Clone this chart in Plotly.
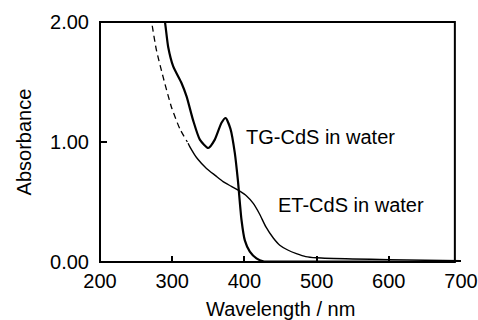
import plotly.graph_objects as go

# TG-CdS in water (solid, thick)
tg_wl = [288, 290, 294.5, 301.4, 313, 319.9, 329, 338.3, 350, 359, 368.3, 374, 380.7, 386.7,
         391, 396, 400.6, 407.5, 416.7, 426, 450, 500, 600, 700]
tg_abs = [2.06, 2.0, 1.79, 1.63, 1.49, 1.38, 1.18, 1.02, 0.95, 1.02, 1.16, 1.20, 1.11, 0.91,
          0.68, 0.35, 0.18, 0.086, 0.03, 0.005, 0.003, 0.003, 0.003, 0.003]

# ET-CdS in water, dashed (short wavelength) part
et_dash_wl = [270, 271.5, 278, 287.5, 299, 310.6, 321]
et_dash_abs = [2.05, 2.0, 1.77, 1.54, 1.29, 1.11, 1.0]

# ET-CdS in water, solid part
et_wl = [322, 324.5, 335, 347.5, 360, 370.5, 382, 393.6, 403, 412, 421, 430, 440, 449, 460,
         472, 485, 500, 550, 600, 650, 700]
et_abs = [0.99, 0.96, 0.86, 0.78, 0.72, 0.67, 0.63, 0.59, 0.55, 0.49, 0.40, 0.29, 0.20, 0.14,
          0.10, 0.07, 0.045, 0.035, 0.025, 0.02, 0.015, 0.01]

x_ticks = [200, 300, 400, 500, 600, 700]
y_ticks = [0, 1, 2]
labels = ["TG-CdS in water", "ET-CdS in water"]
label_x = [400, 444]
label_y = [1.04, 0.475]
x_title = "Wavelength / nm"
y_title = "Absorbance"

FONT = "Liberation Sans, Arial, sans-serif"

fig = go.Figure()
fig.add_trace(go.Scatter(x=tg_wl, y=tg_abs, mode="lines",
                         line=dict(color="black", width=2.2, shape="spline", smoothing=0.6),
                         showlegend=False, hoverinfo="skip"))
fig.add_trace(go.Scatter(x=et_dash_wl, y=et_dash_abs, mode="lines",
                         line=dict(color="black", width=1.3, dash="6px,4px", shape="spline", smoothing=0.6),
                         showlegend=False, hoverinfo="skip"))
fig.add_trace(go.Scatter(x=et_wl, y=et_abs, mode="lines",
                         line=dict(color="black", width=1.4, shape="spline", smoothing=0.6),
                         showlegend=False, hoverinfo="skip"))

for t, lx, ly in zip(labels, label_x, label_y):
    fig.add_annotation(x=lx, y=ly, text=t, showarrow=False, xanchor="left", yanchor="middle",
                       font=dict(size=20, color="black", family=FONT))

# x-axis title, placed slightly lower than plotly's default (as in the original)
fig.add_annotation(x=0.5, y=-0.197, xref="x domain", yref="paper", text=x_title,
                   showarrow=False, xanchor="center", yanchor="middle",
                   font=dict(size=20, color="black", family=FONT))

# frame (right edge sits slightly left of the 700 tick, as in the original)
fig.add_shape(type="rect", xref="paper", yref="paper", x0=0, x1=0.983, y0=0, y1=1,
              line=dict(color="black", width=2), layer="above")

fig.update_layout(
    width=478, height=320,
    margin=dict(l=100, r=17, t=22, b=58),
    paper_bgcolor="white", plot_bgcolor="white",
    font=dict(family=FONT, size=20, color="black"),
    xaxis=dict(range=[200, 700], tickvals=x_ticks, ticktext=[str(v) for v in x_ticks],
               ticks="outside", ticklen=1, tickcolor="rgba(0,0,0,0)",
               showline=False, showgrid=False, zeroline=False, automargin=False,
               minor=dict(tickmode="array", tickvals=[300, 400, 500, 600], ticks="inside",
                          ticklen=6, tickwidth=1.5, tickcolor="black", showgrid=False),
               tickfont=dict(size=20)),
    yaxis=dict(range=[0, 2], tickvals=y_ticks, tickformat=".2f",
               ticks="", showline=False, showgrid=False, zeroline=False, automargin=False,
               ticklabelstandoff=10,
               minor=dict(tickmode="array", tickvals=[1], ticks="inside",
                          ticklen=7, tickwidth=1.5, tickcolor="black", showgrid=False),
               title=dict(text=y_title, standoff=13, font=dict(size=20)),
               tickfont=dict(size=20)),
)

fig.write_html("out.html", config={"displayModeBar": False},
               post_script="document.body.style.margin='0';document.body.style.overflow='hidden';")
